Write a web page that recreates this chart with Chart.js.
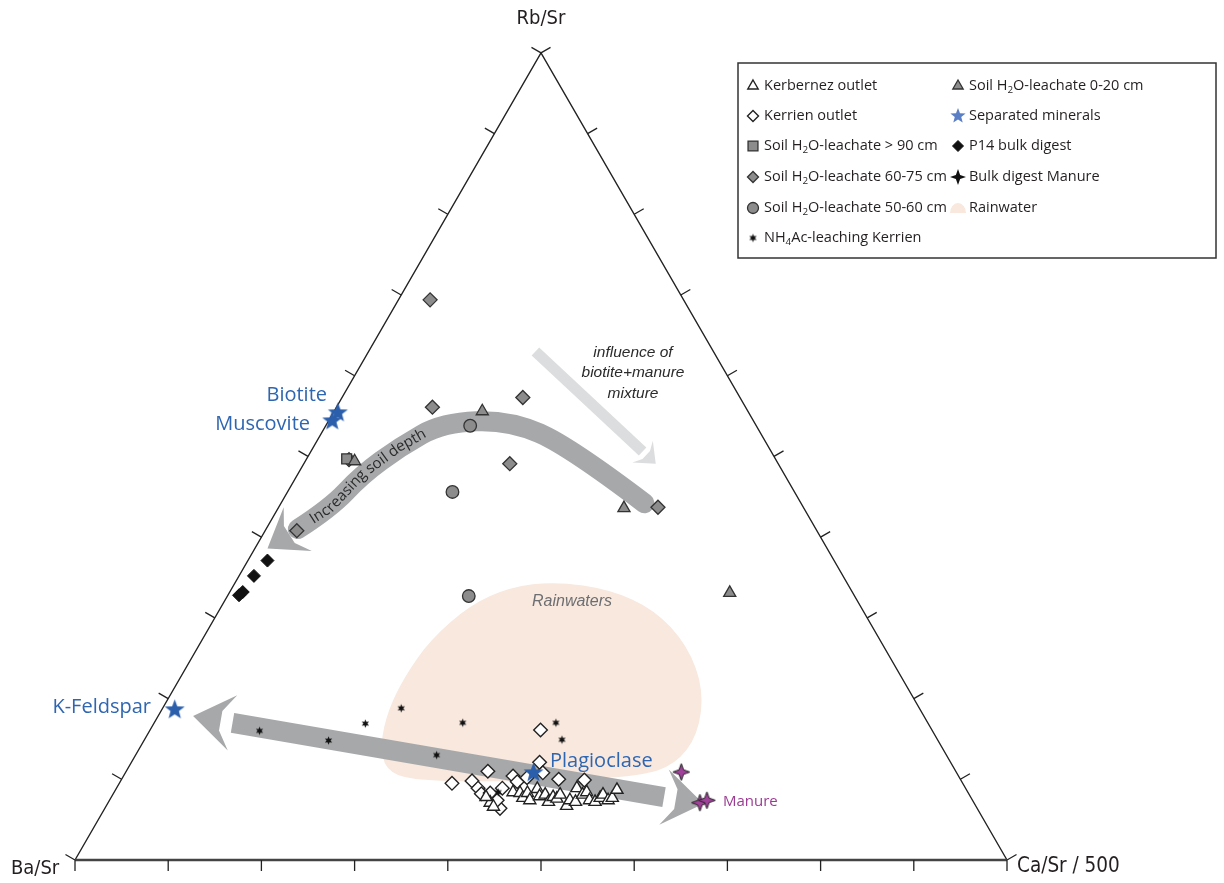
<!DOCTYPE html>
<html>
<head>
<meta charset="utf-8">
<script src="https://cdn.jsdelivr.net/npm/chart.js@4.4.0/dist/chart.umd.min.js"></script>
<style>
html,body{margin:0;padding:0;background:#fff;}
canvas{display:block;}
</style>
</head>
<body>
<canvas id="c" width="1224" height="883"></canvas>
<script>
// ---- Data: ternary compositions in %, each entry = [Rb/Sr, Ca/Sr/500, Ba/Sr] ----
const axisLabels = ['Rb/Sr', 'Ba/Sr', 'Ca/Sr / 500'];
const tickFractions = [0, 10, 20, 30, 40, 50, 60, 70, 80, 90, 100];

const kerbernezOutlet = [
  [7.1,41.0,51.9],[6.6,41.6,51.8],[7.8,40.2,52.0],[8.4,42.8,48.8],[8.3,43.6,48.1],
  [7.7,44.2,48.1],[8.3,44.4,47.3],[7.4,45.1,47.5],[8.8,45.2,46.0],[7.9,45.9,46.2],
  [8.1,46.4,45.5],[7.2,47.2,45.6],[7.8,47.4,44.8],[7.6,47.9,44.5],[8.1,48.0,43.9],
  [6.7,49.4,43.9],[7.4,49.4,43.2],[7.2,50.1,42.7],[8.9,49.4,41.7],[8.1,50.4,41.5],
  [8.4,50.7,40.9],[7.4,51.5,41.1],[7.2,52.2,40.6],[7.7,52.5,39.8],[8.1,52.6,39.3],
  [7.4,53.5,39.1],[7.7,53.8,38.5],[8.7,53.8,37.5]
];
const kerrienOutlet = [
  [16.1,41.9,42.0],[12.1,43.8,44.1],[11.0,38.8,50.2],[9.5,35.7,54.8],[9.8,37.7,52.5],
  [8.9,38.8,52.3],[8.2,39.5,52.3],[8.3,40.4,51.3],[8.9,41.4,49.7],[6.4,42.4,51.2],
  [10.4,41.8,47.8],[9.7,42.6,47.7],[10.2,43.4,46.4],[10.8,44.8,44.4],[10.0,46.9,43.1],
  [9.9,49.7,40.4],[7.4,41.6,51.0]
];
const soilGt90 = [[49.7,4.3,46.0]];
const soil60to75 = [[69.4,3.4,27.2],[56.1,10.3,33.6],[57.3,19.4,23.3],[49.1,22.1,28.8],[43.7,40.7,15.6],[49.6,4.6,45.8],[40.8,3.4,55.8]];
const soil50to60 = [[53.8,15.5,30.7],[45.6,17.7,36.7],[32.7,25.9,41.4]];
const soil0to20 = [[55.6,15.9,28.5],[43.6,37.1,19.3],[33.1,53.7,13.2],[49.4,5.3,45.3]];
const nh4acKerrien = [[16.0,11.8,72.2],[14.8,19.8,65.4],[16.9,22.7,60.4],[18.8,25.6,55.6],[13.0,32.3,54.7],[17.0,33.1,49.9],[17.0,43.1,39.9],[14.9,44.8,40.3],[8.4,41.2,50.4]];
const mineralNames = ['Biotite','Muscovite','K-Feldspar','Plagioclase'];
const separatedMinerals = [[55.4,0.5,44.1],[54.4,0.4,45.2],[18.6,1.4,80.0],[10.8,43.8,45.4]];
const p14BulkDigest = [[37.1,2.1,60.8],[35.2,1.6,63.2],[33.2,1.4,65.4],[32.8,1.2,66.0]];
const manureDigest = [[10.9,59.6,29.5],[7.1,63.5,29.4],[7.4,64.1,28.5]];
// Rainwater field outline and interpretive arrows (same ternary %: [Rb/Sr, Ca/Sr/500])
const rainwaterField = [[34.5,34.3],[33.5,40.7],[31.0,46.7],[26.6,52.4],[21.1,56.9],[15.5,59.1],[11.8,58.5],[10.4,55.4],[9.9,47.1],[9.7,38.6],[9.9,31.0],[11.2,27.7],[14.3,25.6],[18.6,24.3],[22.9,24.0],[27.3,24.5],[31.6,26.6],[33.8,29.8]];
const soilDepthArrow = [[44.2,39.0],[51.2,27.5],[54.5,19.4],[54.2,12.4],[51.2,9.3],[47.7,6.9],[43.6,5.6],[41.0,3.4]];
const feldsparManureArrow = [[17.0,8.4],[7.8,59.3]];
const mixtureArrow = [[63.0,17.9],[50.6,35.6]];

// ---- ternary projection ----
const SQ = Math.sqrt(3) / 2;
function tern(p) {
  const ba = p.length > 2 ? p[2] : 100 - p[0] - p[1];
  const s = p[0] + p[1] + ba;
  const r = p[0] / s, c = p[1] / s;
  return { x: c + r / 2, y: r * SQ };
}

// ---- custom marker images ----
function starCanvas(n, outer, inner, fill, stroke, lw) {
  const size = Math.ceil(outer * 2 + 4);
  const cv = document.createElement('canvas');
  cv.width = size; cv.height = size;
  const g = cv.getContext('2d');
  g.translate(size / 2, size / 2);
  g.beginPath();
  for (let i = 0; i < n * 2; i++) {
    const rr = i % 2 === 0 ? outer : inner;
    const a = -Math.PI / 2 + i * Math.PI / n;
    const x = Math.cos(a) * rr, y = Math.sin(a) * rr;
    i === 0 ? g.moveTo(x, y) : g.lineTo(x, y);
  }
  g.closePath();
  g.fillStyle = fill; g.fill();
  if (stroke) { g.lineWidth = lw; g.strokeStyle = stroke; g.lineJoin = 'miter'; g.stroke(); }
  return cv;
}
const BLUE = '#2c5fab';
const blueStar = starCanvas(5, 10.5, 4.4, BLUE, null, 0);
const blueStarSmall = starCanvas(5, 8, 3.4, '#5b7fc4', null, 0);
const purpleStar = starCanvas(4, 8.5, 3.2, '#a0419a', '#222', 1);
const blackStar4 = starCanvas(4, 8, 3, '#111', null, 0);
const blackStar6 = starCanvas(6, 4.2, 2, '#111', null, 0);

const GRAY = '#8c8c8c';
const DARK = '#333';

const datasets = [
  { label: 'Separated minerals', data: separatedMinerals.map(tern), pointStyle: blueStar, pointRadius: 10 },
  { label: 'Bulk digest Manure', data: manureDigest.map(tern), pointStyle: purpleStar, pointRadius: 8 },
  { label: 'NH4Ac-leaching Kerrien', data: nh4acKerrien.map(tern), pointStyle: blackStar6, pointRadius: 4 },
  { label: 'Kerbernez outlet', data: kerbernezOutlet.map(tern), pointStyle: 'triangle', pointRadius: 7, backgroundColor: '#fff', borderColor: '#222', borderWidth: 1.4 },
  { label: 'Kerrien outlet', data: kerrienOutlet.map(tern), pointStyle: 'rectRot', pointRadius: 6.8, backgroundColor: '#fff', borderColor: '#222', borderWidth: 1.4 },
  { label: 'Soil H2O-leachate 0-20 cm', data: soil0to20.map(tern), pointStyle: 'triangle', pointRadius: 7, backgroundColor: GRAY, borderColor: DARK, borderWidth: 1.3 },
  { label: 'Soil H2O-leachate > 90 cm', data: soilGt90.map(tern), pointStyle: 'rect', pointRadius: 7, backgroundColor: GRAY, borderColor: DARK, borderWidth: 1.3 },
  { label: 'Soil H2O-leachate 60-75 cm', data: soil60to75.map(tern), pointStyle: 'rectRot', pointRadius: 7, backgroundColor: GRAY, borderColor: DARK, borderWidth: 1.3 },
  { label: 'Soil H2O-leachate 50-60 cm', data: soil50to60.map(tern), pointStyle: 'circle', pointRadius: 6.3, backgroundColor: GRAY, borderColor: DARK, borderWidth: 1.3 },
  { label: 'P14 bulk digest', data: p14BulkDigest.map(tern), pointStyle: 'rectRot', pointRadius: 6.5, backgroundColor: '#111', borderColor: '#111', borderWidth: 1 }
];

// ---- drawing helpers ----
function smoothClosed(ctx, pts) {
  const n = pts.length;
  const mid = (a, b) => [(a[0] + b[0]) / 2, (a[1] + b[1]) / 2];
  ctx.beginPath();
  const m0 = mid(pts[n - 1], pts[0]);
  ctx.moveTo(m0[0], m0[1]);
  for (let i = 0; i < n; i++) {
    const m = mid(pts[i], pts[(i + 1) % n]);
    ctx.quadraticCurveTo(pts[i][0], pts[i][1], m[0], m[1]);
  }
  ctx.closePath();
}
function arrowHead(ctx, base, d, len, W, bodyW, notch) {
  const n = [-d[1], d[0]];
  ctx.beginPath();
  ctx.moveTo(base[0] + d[0] * len, base[1] + d[1] * len);
  ctx.lineTo(base[0] + n[0] * W, base[1] + n[1] * W);
  ctx.lineTo(base[0] + d[0] * notch + n[0] * bodyW / 2, base[1] + d[1] * notch + n[1] * bodyW / 2);
  ctx.lineTo(base[0] + d[0] * notch - n[0] * bodyW / 2, base[1] + d[1] * notch - n[1] * bodyW / 2);
  ctx.lineTo(base[0] - n[0] * W, base[1] - n[1] * W);
  ctx.closePath();
  ctx.fill();
}
function unit(a, b) { const dx = b[0] - a[0], dy = b[1] - a[1]; const l = Math.hypot(dx, dy); return [dx / l, dy / l]; }
function drawArrow(ctx, pts, o) {
  ctx.save();
  ctx.strokeStyle = o.color; ctx.fillStyle = o.color;
  ctx.lineWidth = o.width; ctx.lineJoin = 'round'; ctx.lineCap = o.cap || 'butt';
  ctx.beginPath();
  const n = pts.length;
  ctx.moveTo(pts[0][0], pts[0][1]);
  if (o.smooth && n > 2) {
    for (let i = 1; i < n - 1; i++) {
      const mx = (pts[i][0] + pts[i + 1][0]) / 2, my = (pts[i][1] + pts[i + 1][1]) / 2;
      ctx.quadraticCurveTo(pts[i][0], pts[i][1], i === n - 2 ? pts[n - 1][0] : mx, i === n - 2 ? pts[n - 1][1] : my);
    }
  } else {
    for (let i = 1; i < n; i++) ctx.lineTo(pts[i][0], pts[i][1]);
  }
  ctx.stroke();
  if (o.endHead) arrowHead(ctx, pts[n - 1], unit(pts[n - 2], pts[n - 1]), o.len, o.W, o.width, o.notch);
  if (o.startHead) arrowHead(ctx, pts[0], unit(pts[1], pts[0]), o.len, o.W, o.width, o.notch);
  ctx.restore();
}
function textOnPath(ctx, text, pts, offset) {
  const segs = [];
  for (let i = 0; i < pts.length - 1; i++) segs.push(Math.hypot(pts[i + 1][0] - pts[i][0], pts[i + 1][1] - pts[i][1]));
  function at(s) {
    let i = 0;
    while (i < segs.length - 1 && s > segs[i]) { s -= segs[i]; i++; }
    const t = s / segs[i];
    const a = pts[i], b = pts[i + 1];
    return [a[0] + (b[0] - a[0]) * t, a[1] + (b[1] - a[1]) * t, Math.atan2(b[1] - a[1], b[0] - a[0])];
  }
  let s = offset;
  for (const ch of text) {
    const w = ctx.measureText(ch).width;
    const p = at(s + w / 2);
    ctx.save(); ctx.translate(p[0], p[1]); ctx.rotate(p[2]);
    ctx.fillText(ch, -w / 2, 0);
    ctx.restore();
    s += w;
  }
}
function richText(ctx, parts, x, y, size, family) {
  let cx = x;
  for (const p of parts) {
    if (Array.isArray(p)) {
      ctx.font = (size * 0.68) + 'px ' + family;
      ctx.fillText(p[0], cx, y + size * 0.32);
      cx += ctx.measureText(p[0]).width;
    } else {
      ctx.font = size + 'px ' + family;
      ctx.fillText(p, cx, y);
      cx += ctx.measureText(p).width;
    }
  }
}

const FONT = '"Open Sans", "Noto Sans", sans-serif';
const NARROW = '"Liberation Sans Narrow", "DejaVu Sans Condensed", sans-serif';
const ITAL = '"Liberation Sans", Arial, sans-serif';

const legendItems = [
  { col: 0, row: 0, ds: 'Kerbernez outlet', text: ['Kerbernez outlet'] },
  { col: 0, row: 1, ds: 'Kerrien outlet', text: ['Kerrien outlet'] },
  { col: 0, row: 2, ds: 'Soil H2O-leachate > 90 cm', text: ['Soil H', ['2'], 'O-leachate > 90 cm'] },
  { col: 0, row: 3, ds: 'Soil H2O-leachate 60-75 cm', text: ['Soil H', ['2'], 'O-leachate 60-75 cm'] },
  { col: 0, row: 4, ds: 'Soil H2O-leachate 50-60 cm', text: ['Soil H', ['2'], 'O-leachate 50-60 cm'] },
  { col: 0, row: 5, ds: 'NH4Ac-leaching Kerrien', text: ['NH', ['4'], 'Ac-leaching Kerrien'] },
  { col: 1, row: 0, ds: 'Soil H2O-leachate 0-20 cm', text: ['Soil H', ['2'], 'O-leachate 0-20 cm'] },
  { col: 1, row: 1, ds: 'Separated minerals', text: ['Separated minerals'] },
  { col: 1, row: 2, ds: 'P14 bulk digest', text: ['P14 bulk digest'] },
  { col: 1, row: 3, ds: 'Bulk digest Manure', text: ['Bulk digest Manure'] },
  { col: 1, row: 4, ds: 'Rainwater', text: ['Rainwater'] }
];

const decor = {
  id: 'decor',
  beforeDatasetsDraw(chart) {
    const ctx = chart.ctx, sx = chart.scales.x, sy = chart.scales.y;
    const P = t => { const q = tern(t); return [sx.getPixelForValue(q.x), sy.getPixelForValue(q.y)]; };
    ctx.save();
    // rainwater field
    ctx.fillStyle = '#f8e8de';
    smoothClosed(ctx, rainwaterField.map(P));
    ctx.fill();

    // triangle frame & ticks
    const A = P([0, 0, 100]), B = P([0, 100, 0]), C = P([100, 0, 0]);
    ctx.lineCap = 'butt';
    ctx.strokeStyle = '#222'; ctx.lineWidth = 1.4;
    ctx.beginPath(); ctx.moveTo(A[0], A[1]); ctx.lineTo(C[0], C[1]); ctx.lineTo(B[0], B[1]); ctx.stroke();
    ctx.strokeStyle = '#444'; ctx.lineWidth = 2.4;
    ctx.beginPath(); ctx.moveTo(A[0], A[1]); ctx.lineTo(B[0], B[1]); ctx.stroke();
    ctx.strokeStyle = '#222'; ctx.lineWidth = 1.3;
    const TL = 11;
    const edges = [
      [A, B, [0, 1]],
      [A, C, [-SQ, -0.5]],
      [B, C, [SQ, -0.5]]
    ];
    ctx.beginPath();
    for (const [p0, p1, dir] of edges) {
      for (const f of tickFractions) {
        const t = f / 100;
        const x = p0[0] + (p1[0] - p0[0]) * t, y = p0[1] + (p1[1] - p0[1]) * t;
        ctx.moveTo(x, y); ctx.lineTo(x + dir[0] * TL, y + dir[1] * TL);
      }
    }
    ctx.stroke();

    // arrows
    drawArrow(ctx, feldsparManureArrow.map(P), { color: '#a6a8aa', width: 20, len: 40, W: 28, notch: 12, startHead: true, endHead: true });
    drawArrow(ctx, soilDepthArrow.map(P), { color: '#a6a8aa', width: 20, len: 36, W: 26, notch: 10, endHead: true, cap: 'round', smooth: true });
    drawArrow(ctx, mixtureArrow.map(P), { color: '#dcddde', width: 11, len: 18, W: 15, notch: 5, endHead: true });

    // text along soil-depth arrow
    ctx.fillStyle = '#2b2b2b';
    ctx.font = '15px ' + FONT;
    ctx.textBaseline = 'middle'; ctx.textAlign = 'left';
    textOnPath(ctx, 'Increasing soil depth', soilDepthArrow.map(P).reverse(), 16);
    ctx.restore();
  },
  afterDatasetsDraw(chart) {
    const ctx = chart.ctx;
    ctx.save();
    ctx.textBaseline = 'middle';
    // axis titles
    ctx.fillStyle = '#231f20';
    ctx.font = '20px ' + NARROW;
    ctx.textAlign = 'center'; ctx.fillText(axisLabels[0], 541, 19);
    ctx.textAlign = 'left'; ctx.fillText(axisLabels[1], 11, 869);
    ctx.font = '20.5px ' + NARROW;
    ctx.fillText(axisLabels[2], 1017, 867);

    // mineral labels
    ctx.fillStyle = '#2f66b1';
    ctx.font = '20px ' + FONT;
    ctx.textAlign = 'right';
    ctx.fillText(mineralNames[0], 327, 395);
    ctx.fillText(mineralNames[1], 310, 424);
    ctx.fillText(mineralNames[2], 151, 707);
    ctx.textAlign = 'left';
    ctx.fillText(mineralNames[3], 550, 761);
    ctx.fillStyle = '#9b3b92';
    ctx.font = '15px ' + FONT;
    ctx.fillText('Manure', 723, 802);

    // annotations
    ctx.fillStyle = '#6d6e71';
    ctx.font = 'italic 16px ' + ITAL;
    ctx.textAlign = 'center';
    ctx.fillText('Rainwaters', 572, 602);
    ctx.fillStyle = '#2b2b2b';
    ctx.font = 'italic 15.5px ' + ITAL;
    ctx.fillText('influence of', 633, 353);
    ctx.fillText('biotite+manure', 633, 373);
    ctx.fillText('mixture', 633, 394);

    // legend
    const bx = 738, by = 63, bw = 478, bh = 195;
    ctx.fillStyle = '#fff';
    ctx.fillRect(bx, by, bw, bh);
    ctx.strokeStyle = '#333'; ctx.lineWidth = 1.5;
    ctx.strokeRect(bx, by, bw, bh);
    const colX = [753, 958], textDX = 11, rowY = [86, 116, 146, 177, 208, 238];
    ctx.textAlign = 'left';
    for (const it of legendItems) {
      const mx = colX[it.col], my = rowY[it.row];
      if (it.ds === 'Rainwater') {
        ctx.fillStyle = '#f8e8de';
        ctx.beginPath(); ctx.ellipse(mx, my + 5, 8, 10, 0, Math.PI, 2 * Math.PI); ctx.closePath(); ctx.fill();
      } else {
        const ds = datasets.find(d => d.label === it.ds);
        let style = ds.pointStyle;
        if (style === blueStar) style = blueStarSmall;
        if (style === purpleStar) style = blackStar4;
        ctx.fillStyle = ds.backgroundColor || '#000';
        ctx.strokeStyle = ds.borderColor || '#000';
        ctx.lineWidth = ds.borderWidth || 1;
        let r = 5.5;
        if (style === 'rect') r = 7;
        if (style === 'triangle') r = 6;
        Chart.helpers.drawPoint(ctx, { pointStyle: style, radius: r, borderWidth: ctx.lineWidth, rotation: 0 }, mx, my);
      }
      ctx.fillStyle = '#231f20';
      richText(ctx, it.text, mx + textDX, my, 14.5, FONT);
    }
    ctx.restore();
  }
};

new Chart(document.getElementById('c'), {
  type: 'scatter',
  data: { datasets },
  options: {
    responsive: false,
    animation: false,
    layout: { padding: 0, autoPadding: false },
    plugins: { legend: { display: false }, tooltip: { enabled: false } },
    scales: {
      x: { type: 'linear', min: -75 / 932, max: 1149 / 932, display: false },
      y: { type: 'linear', min: -23 / 932, max: 860 / 932, display: false }
    },
    elements: { point: { hoverRadius: 0 } }
  },
  plugins: [decor]
});
</script>
</body>
</html>
